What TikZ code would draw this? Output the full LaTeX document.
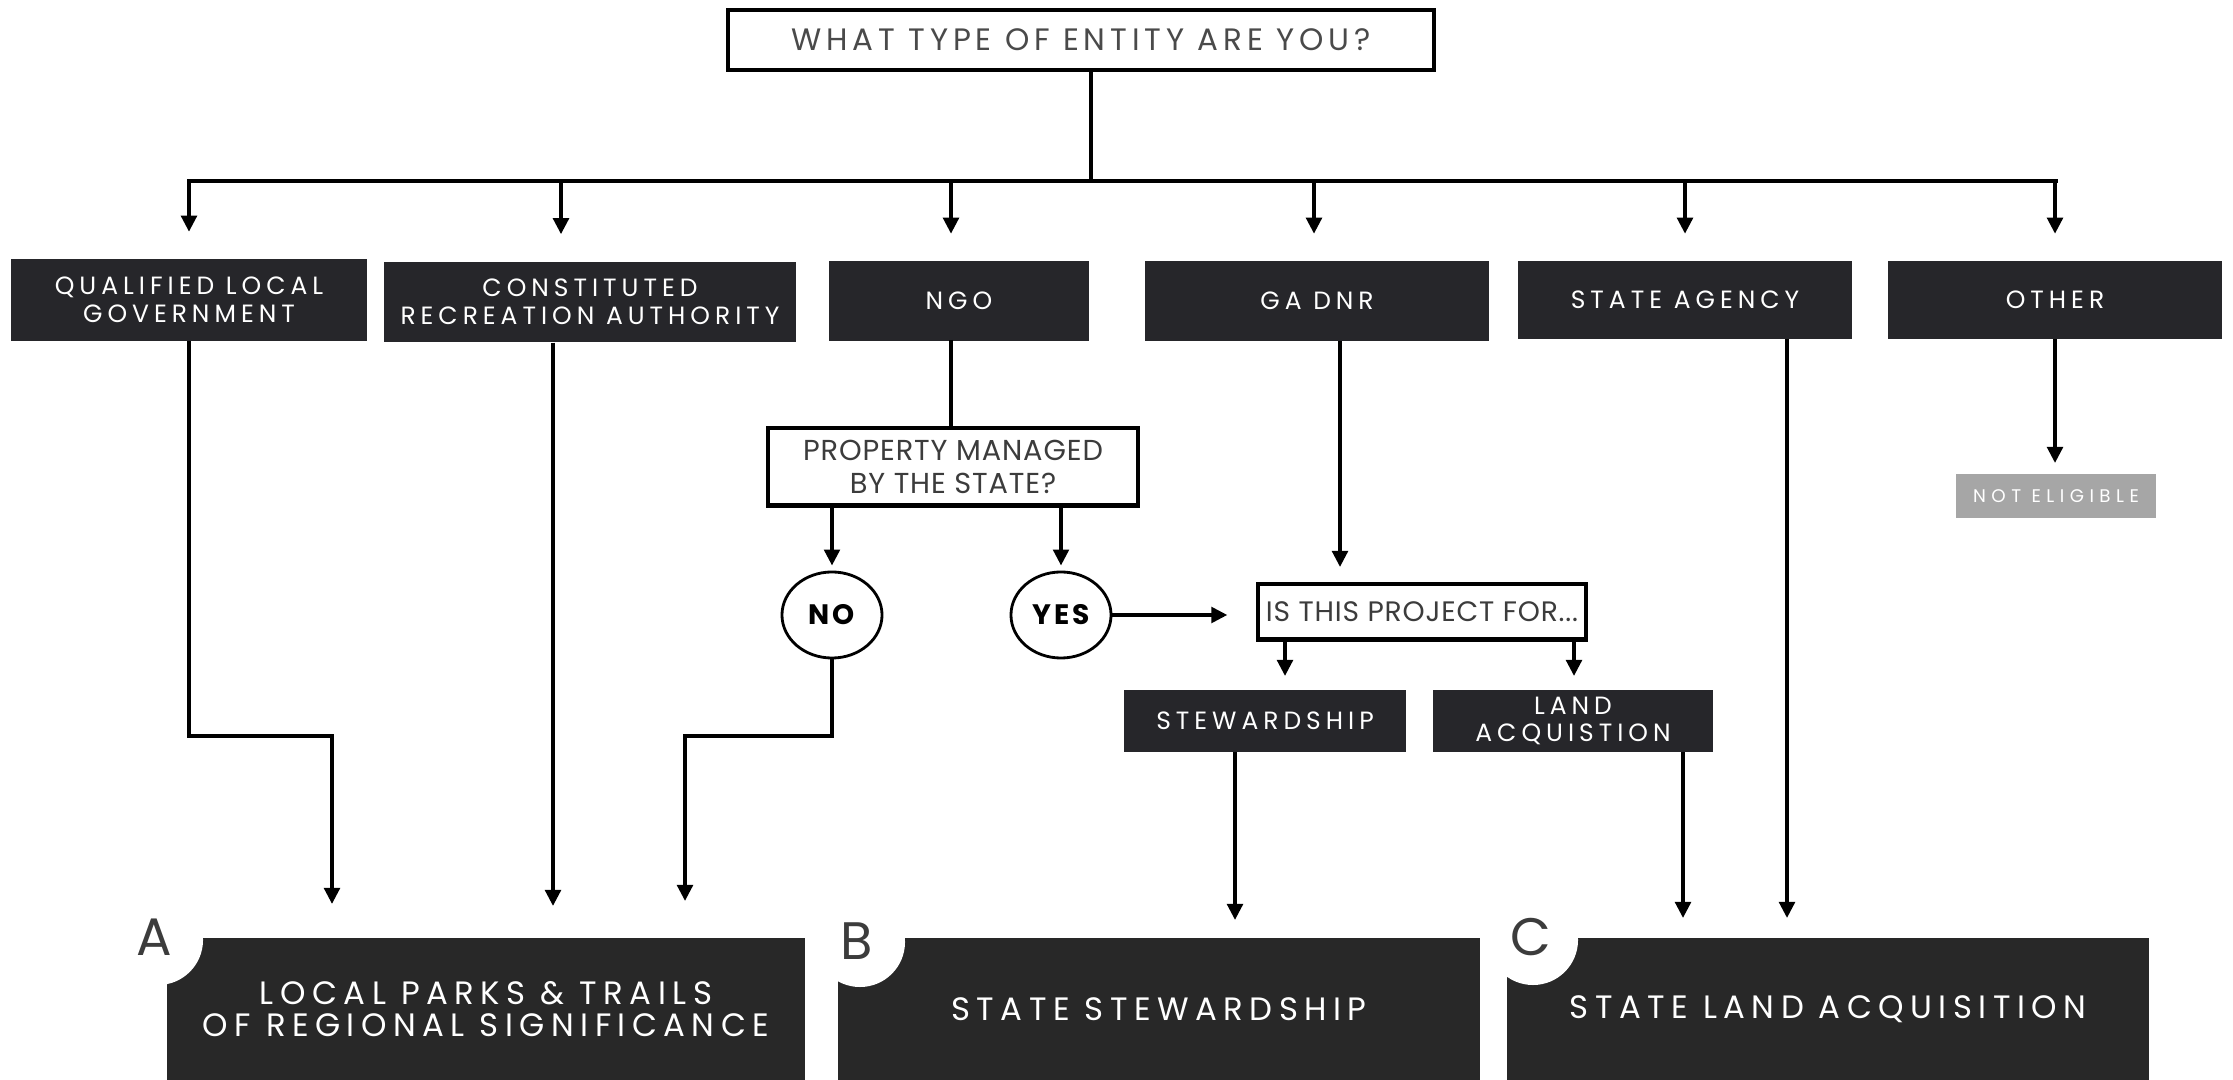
\documentclass[tikz,border=0pt]{standalone}
\usepackage{fontspec}
\setmainfont{Poppins}
\newfontfamily\spA[LetterSpace=20]{Poppins}
\newfontfamily\spB[LetterSpace=16]{Poppins}
\newfontfamily\spC[LetterSpace=20]{Poppins}
\newfontfamily\spD[LetterSpace=30]{Poppins}
\newfontfamily\spE[LetterSpace=3]{Poppins}
\newfontfamily\spF[LetterSpace=10]{Poppins}
\newfontfamily\spN{Poppins}
\usetikzlibrary{arrows.meta,shapes.geometric}
\definecolor{boxdark}{HTML}{26262A}
\definecolor{boxdarkb}{HTML}{282828}
\definecolor{txtgray}{HTML}{3C3C3C}
\definecolor{titlegray}{HTML}{4A4A4A}
\definecolor{elig}{HTML}{A6A6A6}
\tikzset{
  ln/.style={line width=1.05pt, draw=black},
  arr/.style={ln, -{Triangle[width=0.155cm,length=0.16cm]}},
  darkbox/.style={fill=boxdark, text=white, inner sep=0pt, align=center,
    font=\spA\fontsize{7.1}{7.9}\selectfont},
  bigbox/.style={fill=boxdarkb, text=white, inner sep=0pt, align=center,
    font=\spC\fontsize{9.2}{8.9}\selectfont, minimum height=1.42cm},
  wbox/.style={draw=black, line width=1.15pt, fill=white, inner sep=0pt, align=center,
    text=txtgray},
  circ/.style={ellipse, draw=black, line width=0.8pt, fill=white, inner sep=0pt,
    minimum width=1.0cm, minimum height=0.86cm, font=\spF\bfseries\fontsize{8}{9}\selectfont},
  letterdisc/.style={circle, fill=white, inner sep=0pt, minimum size=0.9cm},
  lettertxt/.style={text=txtgray, font=\spN\fontsize{15}{16}\selectfont, inner sep=0pt},
}
\begin{document}
\begin{tikzpicture}[x=0.01cm,y=-0.01cm]
\useasboundingbox[fill=white] (0,0) rectangle (2233,1080);

% top question
\node[wbox, minimum width=7.05cm, minimum height=0.60cm, text=titlegray,
  font=\spB\fontsize{8.8}{9}\selectfont] (top) at (1081,40) {WHAT TYPE OF ENTITY ARE YOU?};

% entity boxes
\node[darkbox, minimum width=3.56cm, minimum height=0.81cm] (qlg) at (189,300) {QUALIFIED LOCAL\\GOVERNMENT};
\node[darkbox, minimum width=4.11cm, minimum height=0.80cm] (cra) at (590,302) {CONSTITUTED\\RECREATION AUTHORITY};
\node[darkbox, minimum width=2.60cm, minimum height=0.79cm] (ngo) at (959,301) {NGO};
\node[darkbox, minimum width=3.43cm, minimum height=0.79cm] (gadnr) at (1317,301) {GA DNR};
\node[darkbox, minimum width=3.33cm, minimum height=0.77cm] (stag) at (1685,300) {STATE AGENCY};
\node[darkbox, minimum width=3.34cm, minimum height=0.77cm] (other) at (2055,300) {OTHER};

% NGO branch
\node[wbox, minimum width=3.70cm, minimum height=0.77cm,
  font=\spE\fontsize{8.2}{9.4}\selectfont] (prop) at (953,467) {PROPERTY MANAGED\\BY THE STATE?};
\node[circ] (no) at (832,615) {NO};
\node[circ] (yes) at (1061,615) {YES};
\node[wbox, minimum width=3.27cm, minimum height=0.55cm,
  font=\spE\fontsize{8}{8}\selectfont] (is) at (1422,612) {IS THIS PROJECT FOR...};
\node[darkbox, minimum width=2.81cm, minimum height=0.61cm] (stew) at (1265,721) {STEWARDSHIP};
\node[darkbox, minimum width=2.80cm, minimum height=0.61cm] (land) at (1573,721) {LAND\\ACQUISTION};
\node[fill=elig, text=white, inner sep=0pt, minimum width=1.99cm, minimum height=0.43cm,
  font=\spD\fontsize{5.2}{6}\selectfont] (notel) at (2056,496) {NOT ELIGIBLE};

% bottom outcome boxes
\node[bigbox, minimum width=6.37cm] (A) at (486,1009) {LOCAL PARKS \& TRAILS\\OF REGIONAL SIGNIFICANCE};
\node[bigbox, minimum width=6.41cm] (B) at (1159,1009) {STATE STEWARDSHIP};
\node[bigbox, minimum width=6.41cm] (C) at (1828,1009) {STATE LAND ACQUISITION};

\node[letterdisc] (dA) at (158,940) {};
\node[letterdisc] (dB) at (860,942) {};
\node[letterdisc] (dC) at (1533,940) {};
\node[lettertxt] (lA) at (154,937) {A};
\node[lettertxt] (lB) at (857,941) {B};
\node[lettertxt] (lC) at (1531,937) {C};

% bus from top
\coordinate (hub) at (1091,181);
\coordinate (busL) at (189,181);
\coordinate (busR) at (2056,181);
\draw[ln] (top.south -| hub) -- (hub);
\draw[ln, line cap=rect] (busL) -- (busR);
\coordinate (t1) at (189,181);
\coordinate (t2) at (561,181);
\coordinate (t3) at (951,181);
\coordinate (t4) at (1314,181);
\coordinate (t5) at (1685,181);
\coordinate (t6) at (2055,181);
\foreach \t/\n in {t1/qlg,t2/cra,t3/ngo,t4/gadnr,t5/stag,t6/other}
  \draw[arr, shorten >=0.27cm] (\t) -- (\t |- \n.north);

% QLG -> A
\coordinate (qA1) at (332,736);
\coordinate (qA2) at (332,904);
\draw[arr] (qlg.south) |- (qA1) -- (qA2);
% CRA -> A
\coordinate (cA) at (553,906);
\draw[arr] (cra.south -| cA) -- (cA);
% NGO -> property
\coordinate (ngoX) at (951,340);
\draw[ln] (ngoX) -- (ngoX |- prop.north);
% property -> no / yes
\draw[arr, shorten >=0.05cm] (prop.south -| no) -- (no.north);
\draw[arr, shorten >=0.05cm] (prop.south -| yes) -- (yes.north);
% no -> A
\coordinate (nA1) at (685,736);
\coordinate (nA2) at (685,901);
\draw[arr] (no.south) |- (nA1) -- (nA2);
% yes -> is
\draw[arr, shorten >=0.29cm] (yes.east) -- (yes.east -| is.west);
% GA DNR -> is
\coordinate (gX) at (1340,567);
\draw[arr] (gadnr.south -| gX) -- (gX);
% is -> stew / land
\coordinate (s1) at (1285,676);
\coordinate (s2) at (1574,676);
\draw[arr] (is.south -| s1) -- (s1);
\draw[arr] (is.south -| s2) -- (s2);
% stew -> B
\coordinate (sB) at (1235,920);
\draw[arr] (stew.south -| sB) -- (sB);
% land -> C
\coordinate (lCx) at (1683,918);
\draw[arr] (land.south -| lCx) -- (lCx);
% state agency -> C
\coordinate (aC) at (1787,918);
\draw[arr] (stag.south -| aC) -- (aC);
% other -> not eligible
\coordinate (oN) at (2055,463);
\draw[arr] (other.south -| oN) -- (oN);
\end{tikzpicture}
\end{document}
